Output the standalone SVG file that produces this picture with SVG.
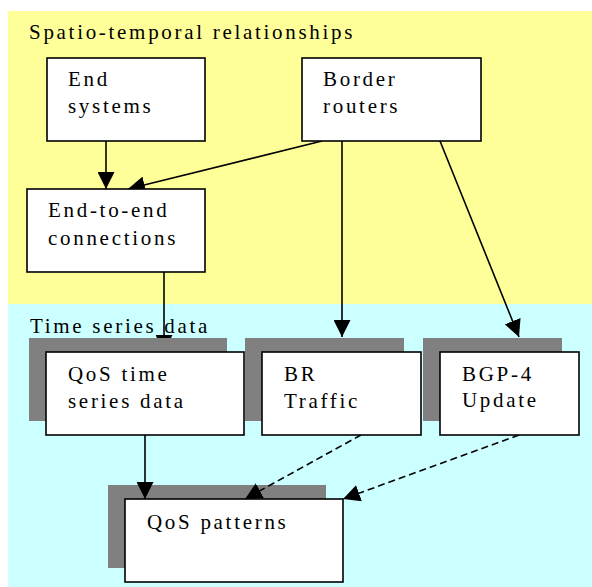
<svg xmlns="http://www.w3.org/2000/svg" width="592" height="587" viewBox="0 0 592 587">
  <style>
    .txt { font-family: "Liberation Serif", "Times New Roman", serif; font-size: 21px; letter-spacing: 2.7px; fill: #000; }
    .box { fill: #fff; stroke: #000; stroke-width: 1.6; }
    .shadow { fill: #808080; }
    .edge { stroke: #000; stroke-width: 1.6; fill: none; marker-end: url(#arrow); }
    .dashed { stroke-dasharray: 7 4; }
  </style>
  <defs>
    <marker id="arrow" viewBox="0 0 17 17" refX="17" refY="8.5" markerWidth="17" markerHeight="17" markerUnits="userSpaceOnUse" orient="auto">
      <path d="M0,0 L17,8.5 L0,17 z" fill="#000"/>
    </marker>
  </defs>

  <!-- background regions -->
  <g id="region-spatio">
    <rect x="8" y="11" width="584" height="293" fill="#ffff99"/>
    <text class="txt" x="29" y="39">Spatio-temporal relationships</text>
  </g>
  <g id="region-timeseries">
    <rect x="8" y="304" width="584" height="283" fill="#ccffff"/>
    <text class="txt" x="30" y="333">Time series data</text>
  </g>

  <g id="qos-patterns">
    <rect class="shadow" x="108" y="485" width="218" height="83"/>
    <rect class="box" x="125" y="499" width="218" height="83"/>
    <text class="txt" x="147" y="529">QoS patterns</text>
  </g>

  <g id="connectors">
    <line class="edge" x1="106" y1="141" x2="106" y2="189"/>
    <line class="edge" x1="322" y1="141" x2="128" y2="189"/>
    <line class="edge" x1="164" y1="272" x2="164" y2="352"/>
    <line class="edge" x1="342" y1="141" x2="342" y2="337"/>
    <line class="edge" x1="440" y1="141" x2="519" y2="337"/>
    <line class="edge" x1="145" y1="435" x2="145" y2="499"/>
    <line class="edge dashed" x1="361" y1="435" x2="245" y2="499"/>
    <line class="edge dashed" x1="519" y1="435" x2="343" y2="499"/>
  </g>

  <g id="qos-time-series">
    <rect class="shadow" x="29" y="338" width="198" height="83"/>
    <rect class="box" x="46" y="352" width="198" height="83"/>
    <text class="txt" x="68" y="381">QoS time</text>
    <text class="txt" x="68" y="408">series data</text>
  </g>
  <g id="br-traffic">
    <rect class="shadow" x="245" y="338" width="159" height="83"/>
    <rect class="box" x="262" y="352" width="159" height="83"/>
    <text class="txt" x="284" y="381">BR</text>
    <text class="txt" x="284" y="408">Traffic</text>
  </g>
  <g id="bgp-update">
    <rect class="shadow" x="423" y="338" width="139" height="83"/>
    <rect class="box" x="440" y="352" width="139" height="83"/>
    <text class="txt" x="462" y="381">BGP-4</text>
    <text class="txt" x="462" y="407">Update</text>
  </g>

  <g id="end-systems">
    <rect class="box" x="47" y="58" width="158" height="83"/>
    <text class="txt" x="68" y="86">End</text>
    <text class="txt" x="68" y="113">systems</text>
  </g>
  <g id="border-routers">
    <rect class="box" x="302" y="58" width="179" height="83"/>
    <text class="txt" x="323" y="86">Border</text>
    <text class="txt" x="323" y="113">routers</text>
  </g>
  <g id="end-to-end">
    <rect class="box" x="27" y="189" width="178" height="83"/>
    <text class="txt" x="48" y="217">End-to-end</text>
    <text class="txt" x="48" y="245">connections</text>
  </g>
</svg>
